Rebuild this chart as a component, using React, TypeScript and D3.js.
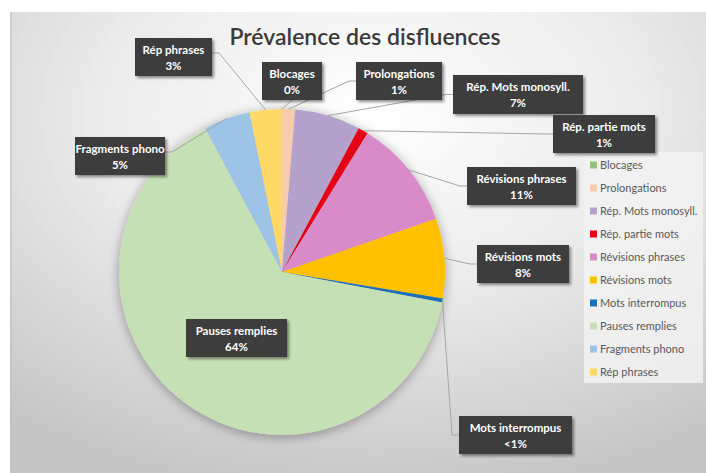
import React from "react";
import * as d3 from "d3";

const categories = [
  "Blocages",
  "Prolongations",
  "Rép. Mots monosyll.",
  "Rép. partie mots",
  "Révisions phrases",
  "Révisions mots",
  "Mots interrompus",
  "Pauses remplies",
  "Fragments phono",
  "Rép phrases",
];
const values = [0, 1.3, 6.5, 1.0, 10.9, 7.9, 0.4, 64.2, 4.6, 3.2];
const percentLabels = ["0%", "1%", "7%", "1%", "11%", "8%", "<1%", "64%", "5%", "3%"];
const colors = [
  "#93c47d",
  "#f8cbad",
  "#b4a2cc",
  "#e60012",
  "#d98bc9",
  "#ffc000",
  "#1f6fb8",
  "#c5e0b4",
  "#9dc3e6",
  "#ffd966",
];
const legendLabels = [
  "Blocages",
  "Prolongations",
  "Rép. Mots monosyll.",
  "Rép. partie mots",
  "Révisions phrases",
  "Révisions mots",
  "Mots interrompus",
  "Pauses remplies",
  "Fragments phono",
  "Rép phrases",
];
const titleText = "Prévalence des disfluences";

// layout of label boxes: x0, y0, w, h, leader side
const labelLayout = [
  { x: 262, y: 62, w: 60, h: 38, side: "bottom" },
  { x: 356, y: 62, w: 86, h: 38, side: "left" },
  { x: 453, y: 75, w: 130, h: 39, side: "left" },
  { x: 553, y: 115, w: 102, h: 38, side: "left" },
  { x: 467, y: 167, w: 109, h: 38, side: "left" },
  { x: 477, y: 245, w: 92, h: 38, side: "left" },
  { x: 459, y: 416, w: 113, h: 38, side: "left" },
  { x: 186, y: 319, w: 101, h: 38, side: "none" },
  { x: 75, y: 137, w: 90, h: 38, side: "right" },
  { x: 135, y: 38, w: 77, h: 38, side: "right" },
];

const W = 706;
const H = 473;
const cx = 282;
const cy = 272;
const R = 163;

export default function App() {
  const pie = d3
    .pie<number>()
    .sort(null)
    .value((d) => d)
    .startAngle(0)
    .endAngle(2 * Math.PI);
  const arcs = pie(values);
  const arc = d3.arc<d3.PieArcDatum<number>>().innerRadius(0).outerRadius(R);

  const leaders = arcs.map((a, i) => {
    const L = labelLayout[i];
    if (L.side === "none") return null;
    const mid = (a.startAngle + a.endAngle) / 2;
    const sx = cx + R * Math.sin(mid);
    const sy = cy - R * Math.cos(mid);
    let pts: [number, number][] = [];
    if (L.side === "left") {
      const ey = L.y + L.h / 2;
      pts = [
        [sx, sy],
        [L.x - 7, ey],
        [L.x, ey],
      ];
    } else if (L.side === "right") {
      const ey = L.y + L.h / 2 - 4;
      pts = [
        [sx, sy],
        [L.x + L.w + 7, ey],
        [L.x + L.w, ey],
      ];
    } else {
      pts = [
        [sx, sy],
        [L.x + L.w / 2, L.y + L.h],
      ];
    }
    return d3.line()(pts);
  });

  return (
    <svg
      width={W}
      height={H}
      style={{ position: "absolute", left: 0, top: 0, background: "#fff" }}
    >
      <defs>
        <radialGradient id="bg" cx="0.52" cy="0.22" r="0.85" gradientUnits="objectBoundingBox">
          <stop offset="0" stopColor="#ffffff" />
          <stop offset="0.45" stopColor="#ececec" />
          <stop offset="1" stopColor="#c4c4c4" />
        </radialGradient>
        <filter id="pieShadow" x="-20%" y="-20%" width="140%" height="140%">
          <feGaussianBlur in="SourceAlpha" stdDeviation="6" />
          <feOffset dx="0" dy="2" result="b" />
          <feComponentTransfer>
            <feFuncA type="linear" slope="0.35" />
          </feComponentTransfer>
          <feMerge>
            <feMergeNode />
            <feMergeNode in="SourceGraphic" />
          </feMerge>
        </filter>
        <filter id="boxShadow" x="-20%" y="-20%" width="150%" height="160%">
          <feGaussianBlur in="SourceAlpha" stdDeviation="1.5" />
          <feOffset dx="2" dy="2" result="b" />
          <feComponentTransfer>
            <feFuncA type="linear" slope="0.45" />
          </feComponentTransfer>
          <feMerge>
            <feMergeNode />
            <feMergeNode in="SourceGraphic" />
          </feMerge>
        </filter>
      </defs>
      <rect x={10} y={12} width={W - 10} height={H - 12} fill="url(#bg)" />
      <rect x={10} y={12} width={2} height={H - 12} fill="#bdbdbd" opacity={0.5} />

      <text
        x={365}
        y={45}
        textAnchor="middle"
        fontFamily="Lato, 'Open Sans', sans-serif"
        fontSize={23}
        fontWeight={600}
        fill="#3a3a3a"
      >
        {titleText}
      </text>

      <g filter="url(#pieShadow)">
        {arcs.map((a, i) => (
          <path
            key={i}
            d={arc(a) || ""}
            transform={`translate(${cx},${cy})`}
            fill={colors[i]}
          />
        ))}
      </g>

      <g fill="none" stroke="#a6a6a6" strokeWidth={1}>
        {leaders.map((d, i) => (d ? <path key={i} d={d} /> : null))}
      </g>

      {/* legend */}
      <rect x={584} y={152} width={119} height={231} fill="#f2f2f2" opacity={0.85} />
      {legendLabels.map((t, i) => (
        <g key={i} transform={`translate(590,${165 + i * 23})`}>
          <rect x={0} y={-3.5} width={7} height={7} fill={colors[i]} />
          <text
            x={10}
            y={4}
            fontFamily="Lato, 'Open Sans', sans-serif"
            fontSize={11}
            fill="#595959"
          >
            {t}
          </text>
        </g>
      ))}

      {/* data labels */}
      {labelLayout.map((L, i) => (
        <g key={i}>
          <rect
            x={L.x}
            y={L.y}
            width={L.w}
            height={L.h}
            fill="#3d3d3d"
            filter="url(#boxShadow)"
          />
          <text
            x={L.x + L.w / 2}
            y={L.y + 16}
            textAnchor="middle"
            fontFamily="Lato, 'Open Sans', sans-serif"
            fontWeight="bold"
            fontSize={11.5}
            fill="#ffffff"
          >
            {categories[i]}
          </text>
          <text
            x={L.x + L.w / 2}
            y={L.y + 32}
            textAnchor="middle"
            fontFamily="Lato, 'Open Sans', sans-serif"
            fontWeight="bold"
            fontSize={11.5}
            fill="#ffffff"
          >
            {percentLabels[i]}
          </text>
        </g>
      ))}
    </svg>
  );
}
